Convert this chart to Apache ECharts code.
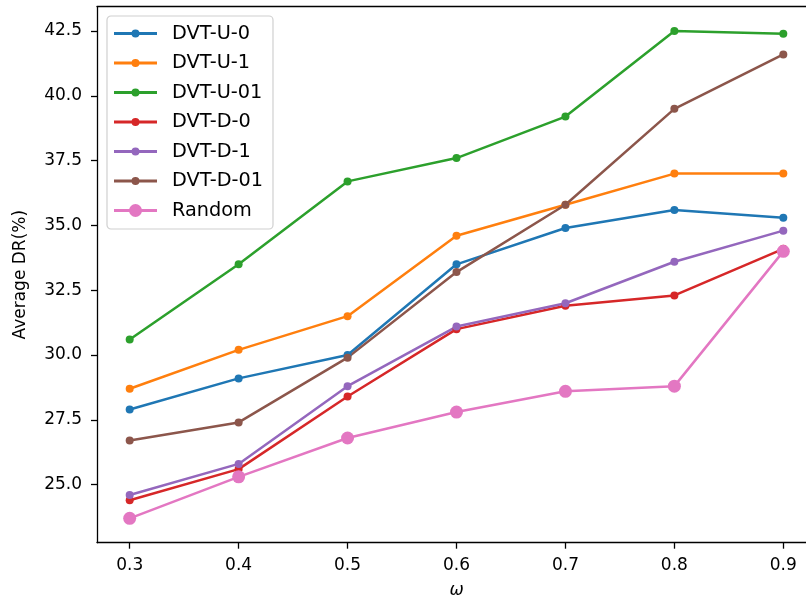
<!DOCTYPE html>
<html>
<head>
<meta charset="utf-8">
<script src="https://cdn.jsdelivr.net/npm/echarts@6/dist/echarts.min.js"></script>
<style>html,body{margin:0;padding:0;background:#fff;}#c{width:806px;height:601px;}</style>
</head>
<body>
<div id="c"></div>
<script>
const omega = [0.3, 0.4, 0.5, 0.6, 0.7, 0.8, 0.9];
const xTicks = [0.3, 0.4, 0.5, 0.6, 0.7, 0.8, 0.9];
const yTicks = [25.0, 27.5, 30.0, 32.5, 35.0, 37.5, 40.0, 42.5];
const seriesNames = ['DVT-U-0', 'DVT-U-1', 'DVT-U-01', 'DVT-D-0', 'DVT-D-1', 'DVT-D-01', 'Random'];
const dvtU0  = [27.9, 29.1, 30.0, 33.5, 34.9, 35.6, 35.3];
const dvtU1  = [28.7, 30.2, 31.5, 34.6, 35.8, 37.0, 37.0];
const dvtU01 = [30.6, 33.5, 36.7, 37.6, 39.2, 42.5, 42.4];
const dvtD0  = [24.4, 25.6, 28.4, 31.0, 31.9, 32.3, 34.1];
const dvtD1  = [24.6, 25.8, 28.8, 31.1, 32.0, 33.6, 34.8];
const dvtD01 = [26.7, 27.4, 29.9, 33.2, 35.8, 39.5, 41.6];
const randomDR = [23.7, 25.3, 26.8, 27.8, 28.6, 28.8, 34.0];

const allValues = [dvtU0, dvtU1, dvtU01, dvtD0, dvtD1, dvtD01, randomDR];
const colors = ['#1f77b4', '#ff7f0e', '#2ca02c', '#d62728', '#9467bd', '#8c564b', '#e377c2'];
const FONT = 'DejaVu Sans';

function legendIcon(r) {
  const cy = 6.5;
  return 'path://M0,0 L0.01,0 L0.01,0.01 Z M42.99,12.99 L43,12.99 L43,13 Z ' +
    'M0,5 L43,5 L43,8 L0,8 Z ' +
    'M' + (21.5 - r) + ',' + cy + ' A' + r + ',' + r + ' 0 1 1 ' + (21.5 + r) + ',' + cy +
    ' A' + r + ',' + r + ' 0 1 1 ' + (21.5 - r) + ',' + cy + ' Z';
}

const series = seriesNames.map((name, i) => ({
  name: name,
  type: 'line',
  xAxisIndex: 0,
  data: omega.map((x, j) => [x, allValues[i][j]]),
  symbol: 'circle',
  symbolSize: name === 'Random' ? 13 : 8,
  showSymbol: true,
  lineStyle: { width: 2.5, color: colors[i] },
  itemStyle: { color: colors[i], borderWidth: 0 },
  emphasis: { disabled: true },
  animation: false
}));

const chart = echarts.init(document.getElementById('c'), null, { renderer: 'canvas' });
chart.setOption({
  backgroundColor: '#ffffff',
  animation: false,
  grid: { left: 97, top: 6.7, width: 719, height: 536, show: false,
    containLabel: false, outerBoundsMode: 'none' },
  legend: {
    orient: 'vertical',
    left: 107, top: 16,
    padding: [8, 10, 9, 7],
    itemWidth: 43, itemHeight: 13, itemGap: 10.5,
    backgroundColor: 'rgba(255,255,255,0.8)',
    borderColor: '#d0d0d0', borderWidth: 1.2, borderRadius: 4,
    symbolKeepAspect: false,
    textStyle: { fontFamily: FONT, fontSize: 19.3, color: '#000', padding: [0, 0, 0, 10] },
    data: seriesNames.map((n, i) => ({ name: n, icon: legendIcon(n === 'Random' ? 6.5 : 4) }))
  },
  xAxis: [{
    type: 'value',
    position: 'bottom',
    min: 0.27, max: 0.93,
    name: 'ω',
    nameLocation: 'middle',
    nameGap: 39,
    nameTextStyle: { fontFamily: FONT, fontSize: 17, fontStyle: 'italic', color: '#000' },
    axisLine: { show: true, onZero: false, lineStyle: { color: '#000', width: 1.3 } },
    axisTick: { show: true, length: 6, lineStyle: { color: '#000', width: 1.3 }, customValues: xTicks },
    axisLabel: { fontFamily: FONT, fontSize: 17, color: '#000', margin: 14, customValues: xTicks,
      formatter: v => Number(v).toFixed(1) },
    splitLine: { show: false }
  }, {
    type: 'value',
    position: 'top',
    min: 0.27, max: 0.93,
    axisLine: { show: true, onZero: false, lineStyle: { color: '#000', width: 1.3 } },
    axisTick: { show: false },
    axisLabel: { show: false },
    splitLine: { show: false }
  }],
  yAxis: {
    type: 'value',
    min: 22.76, max: 43.44,
    name: 'Average DR(%)',
    nameLocation: 'middle',
    nameGap: 68,
    nameRotate: 90,
    nameTextStyle: { fontFamily: FONT, fontSize: 17, color: '#000' },
    axisLine: { show: true, onZero: false, lineStyle: { color: '#000', width: 1.3 } },
    axisTick: { show: true, length: 6, lineStyle: { color: '#000', width: 1.3 }, customValues: yTicks },
    axisLabel: { fontFamily: FONT, fontSize: 17, color: '#000', margin: 15, customValues: yTicks,
      formatter: v => Number(v).toFixed(1) },
    splitLine: { show: false }
  },
  series: series
});
</script>
</body>
</html>
